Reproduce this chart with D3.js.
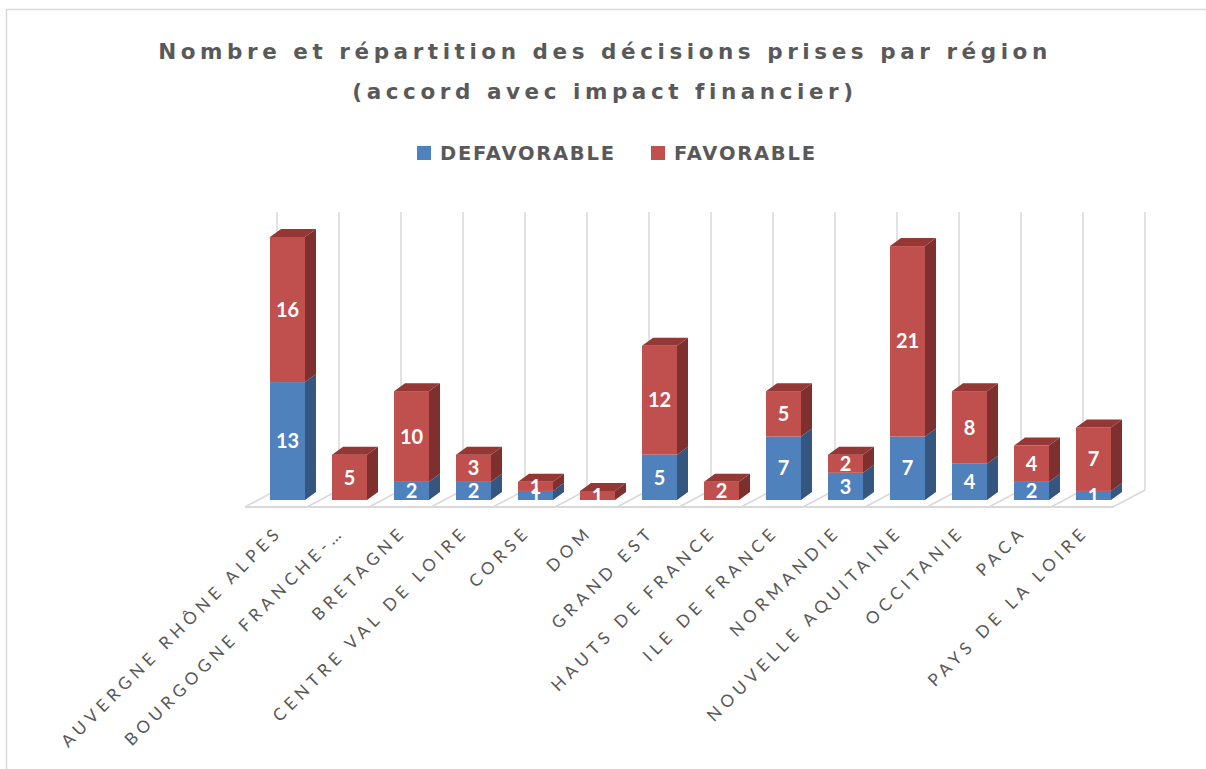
<!DOCTYPE html>
<html><head><meta charset="utf-8">
<script src="https://cdn.jsdelivr.net/npm/d3@7"></script>
<style>body{margin:0;background:#fff} svg{display:block}</style>
</head><body><svg id="c" width="1206" height="769"></svg>
<script>
const categories = ["AUVERGNE RHÔNE ALPES","BOURGOGNE FRANCHE-…","BRETAGNE","CENTRE VAL DE LOIRE","CORSE","DOM","GRAND EST","HAUTS DE FRANCE","ILE DE FRANCE","NORMANDIE","NOUVELLE AQUITAINE","OCCITANIE","PACA","PAYS DE LA LOIRE"];
const defavorable = [13,0,2,2,1,0,5,0,7,3,7,4,2,1];
const favorable   = [16,5,10,3,1,1,12,2,5,2,21,8,4,7];
const seriesNames = ["DEFAVORABLE","FAVORABLE"];
const titleLines = ["Nombre et répartition des décisions prises par région","(accord avec impact financier)"];

const colors = {
  DEFAVORABLE: {front:"#4f81bd", side:"#34567f", top:"#3e6798"},
  FAVORABLE:   {front:"#c0504d", side:"#7e302e", top:"#943735"}
};
const txt = "#595959", grid = "#d9d9d9";

const svg = d3.select("#c");
const W = 1206;

// frame
svg.append("rect").attr("x",6.5).attr("y",9.5).attr("width",1400).attr("height",1000)
  .attr("fill","none").attr("stroke",grid).attr("stroke-width",1.5);

function fitText(sel, target){
  const n = sel.text().length;
  const w = sel.node().getComputedTextLength();
  const ls = (target - w)/(n-1);
  sel.attr("letter-spacing", ls);
}

// title
const tf = "DejaVu Sans";
const t1 = svg.append("text").attr("x",W/2+2).attr("y",59).attr("text-anchor","middle")
  .attr("font-family",tf).attr("font-weight",700).attr("font-size",21.5).attr("fill",txt).text(titleLines[0]);
fitText(t1, 889);
const t2 = svg.append("text").attr("x",W/2+2).attr("y",99).attr("text-anchor","middle")
  .attr("font-family",tf).attr("font-weight",700).attr("font-size",21.5).attr("fill",txt).text(titleLines[1]);
t2.attr("letter-spacing", t1.attr("letter-spacing"));

// legend
const legX = [417, 651];
seriesNames.forEach((s,i)=>{
  svg.append("rect").attr("x",legX[i]).attr("y",146).attr("width",14).attr("height",14).attr("fill",colors[s].front);
  const lt = svg.append("text").attr("x",legX[i]+23).attr("y",160).attr("font-family",tf).attr("font-weight",700)
    .attr("font-size",19.5).attr("fill",txt).text(s);
  fitText(lt, i===0?174:141);
});

// geometry
const x = d3.scaleBand().domain(categories).range([245,1113]).paddingInner(0).paddingOuter(0);
const floorFront = 507, floorDepth = [32,-17];
const barShift = 12.5, barW = 35, barDepth = [11,-8];
const y = d3.scaleLinear().domain([0,29]).range([500,237]);
const gridTop = 212;

// floor
const g = svg.append("g");
const bounds = categories.map(c=>x(c)).concat([x.range()[1]]);
bounds.forEach(b=>{
  g.append("line").attr("x1",b+floorDepth[0]).attr("x2",b+floorDepth[0])
    .attr("y1",gridTop).attr("y2",floorFront+floorDepth[1]).attr("stroke",grid).attr("stroke-width",1.5);
  g.append("line").attr("x1",b).attr("y1",floorFront).attr("x2",b+floorDepth[0]).attr("y2",floorFront+floorDepth[1])
    .attr("stroke",grid).attr("stroke-width",1.5);
});
g.append("line").attr("x1",x.range()[0]).attr("x2",x.range()[1]).attr("y1",floorFront).attr("y2",floorFront)
  .attr("stroke",grid).attr("stroke-width",2);

// stacked data
const table = categories.map((c,i)=>({cat:c, DEFAVORABLE:defavorable[i], FAVORABLE:favorable[i]}));
const stacked = d3.stack().keys(seriesNames)(table);

const bars = svg.append("g");
const labels = [];
categories.forEach((c,i)=>{
  const x0 = x(c) + barShift + (x.step()-barW)/2 - 1;
  const x1 = x0 + barW;
  const segs = stacked.map(s=>({key:s.key, y0:s[i][0], y1:s[i][1], v:s[i].data[s.key]})).filter(d=>d.v>0);
  segs.forEach((d,k)=>{
    const yb = y(d.y0), yt = y(d.y1), col = colors[d.key];
    bars.append("rect").attr("x",x0).attr("y",yt).attr("width",barW).attr("height",yb-yt).attr("fill",col.front);
    bars.append("polygon").attr("points",[[x1,yt],[x1+barDepth[0],yt+barDepth[1]],[x1+barDepth[0],yb+barDepth[1]],[x1,yb]].join(" "))
      .attr("fill",col.side);
    if(k===segs.length-1){
      bars.append("polygon").attr("points",[[x0,yt],[x1,yt],[x1+barDepth[0],yt+barDepth[1]],[x0+barDepth[0],yt+barDepth[1]]].join(" "))
        .attr("fill",col.top);
    }
    labels.push({x:(x0+x1)/2, y:(yb+yt)/2, v:d.v});
  });
});
svg.append("g").selectAll("text").data(labels).join("text")
  .attr("x",d=>d.x).attr("y",d=>d.y).attr("dy","0.36em").attr("text-anchor","middle")
  .attr("font-family","Lato").attr("font-weight",700).attr("font-size",20).attr("fill","#fff")
  .text(d=>d.v);

// axis labels
svg.append("g").selectAll("text").data(categories).join("text")
  .attr("transform",c=>`translate(${x(c)+barShift+x.step()/2-5},533) rotate(-45)`)
  .attr("text-anchor","end").attr("font-family","Lato").attr("font-size",17).attr("fill",txt)
  .attr("letter-spacing",4.8).text(c=>c);
</script></body></html>
